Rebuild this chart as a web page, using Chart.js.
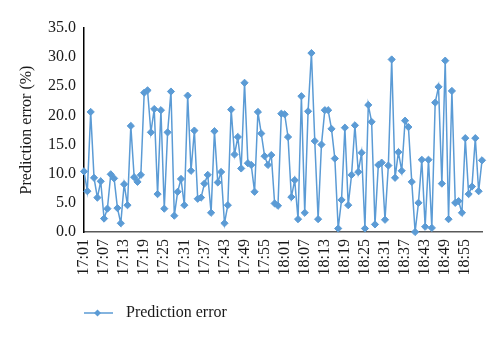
<!DOCTYPE html>
<html>
<head>
<meta charset="utf-8">
<script src="https://cdn.jsdelivr.net/npm/chart.js@4/dist/chart.umd.min.js"></script>
<style>
  html, body { margin: 0; padding: 0; background: #fff; }
  #wrap { width: 500px; height: 342px; position: relative; }
</style>
</head>
<body>
<div id="wrap"><canvas id="c"></canvas></div>
<script>
const categories = [
  '17:01','17:02','17:03','17:04','17:05','17:06','17:07','17:08','17:09','17:10',
  '17:11','17:12','17:13','17:14','17:15','17:16','17:17','17:18','17:19','17:20',
  '17:21','17:22','17:23','17:24','17:25','17:26','17:27','17:28','17:29','17:30',
  '17:31','17:32','17:33','17:34','17:35','17:36','17:37','17:38','17:39','17:40',
  '17:41','17:42','17:43','17:44','17:45','17:46','17:47','17:48','17:49','17:50',
  '17:51','17:52','17:53','17:54','17:55','17:56','17:57','17:58','17:59','18:00',
  '18:01','18:02','18:03','18:04','18:05','18:06','18:07','18:08','18:09','18:10',
  '18:11','18:12','18:13','18:14','18:15','18:16','18:17','18:18','18:19','18:20',
  '18:21','18:22','18:23','18:24','18:25','18:26','18:27','18:28','18:29','18:30',
  '18:31','18:32','18:33','18:34','18:35','18:36','18:37','18:38','18:39','18:40',
  '18:41','18:42','18:43','18:44','18:45','18:46','18:47','18:48','18:49','18:50',
  '18:51','18:52','18:53','18:54','18:55','18:56','18:57','18:58','18:59','19:00'
];

const predictionError = [
  10.4, 7.0, 20.6, 9.3, 5.9, 8.7, 2.3, 4.0, 9.9, 9.2,
  4.1, 1.5, 8.2, 4.6, 18.2, 9.4, 8.6, 9.8, 23.9, 24.3,
  17.1, 21.1, 6.5, 20.9, 4.0, 17.1, 24.1, 2.8, 6.9, 9.1,
  4.6, 23.4, 10.5, 17.4, 5.7, 5.9, 8.3, 9.8, 3.3, 17.3,
  8.5, 10.3, 1.5, 4.6, 21.0, 13.3, 16.3, 10.9, 25.6, 11.8,
  11.5, 6.9, 20.6, 16.9, 13.0, 11.5, 13.2, 4.9, 4.5, 20.3,
  20.2, 16.3, 6.0, 8.9, 2.2, 23.3, 3.3, 20.7, 30.7, 15.6,
  2.2, 15.0, 20.9, 20.9, 17.7, 12.6, 0.6, 5.5, 17.9, 4.6,
  9.8, 18.3, 10.3, 13.6, 0.6, 21.8, 18.9, 1.3, 11.5, 11.9,
  2.1, 11.4, 29.6, 9.3, 13.7, 10.5, 19.1, 18.0, 8.6, 0.0,
  5.0, 12.4, 0.9, 12.4, 0.7, 22.2, 24.9, 8.3, 29.4, 2.2,
  24.2, 5.0, 5.3, 3.3, 16.1, 6.5, 7.8, 16.1, 7.0, 12.3
];

const seriesName = 'Prediction error';
const yAxisTitle = 'Prediction error (%)';
const yTicks = [0, 5, 10, 15, 20, 25, 30, 35];
const labelEvery = 6;

const BLUE = '#5B9BD5';
const FONT = "'Liberation Serif', 'Times New Roman', serif";

// legend marker: line with a diamond
const marker = document.createElement('canvas');
marker.width = 40; marker.height = 10;
(function () {
  const m = marker.getContext('2d');
  m.strokeStyle = BLUE; m.lineWidth = 1.5;
  m.beginPath(); m.moveTo(1, 5); m.lineTo(32, 5); m.stroke();
  m.fillStyle = BLUE;
  m.beginPath();
  m.moveTo(16.5, 1.5); m.lineTo(20, 5); m.lineTo(16.5, 8.5); m.lineTo(13, 5); m.closePath();
  m.fill();
})();

new Chart(document.getElementById('c'), {
  type: 'line',
  data: {
    labels: categories,
    datasets: [{
      label: seriesName,
      data: predictionError,
      borderColor: BLUE,
      backgroundColor: BLUE,
      borderWidth: 1.5,
      pointStyle: 'rectRot',
      pointRadius: 3.6,
      pointBorderWidth: 1,
      pointBackgroundColor: BLUE,
      pointBorderColor: BLUE,
      tension: 0,
      clip: false
    }]
  },
  options: {
    responsive: true,
    maintainAspectRatio: false,
    animation: false,
    layout: { padding: { left: 0, right: 18, top: 28, bottom: 11 } },
    plugins: {
      tooltip: { enabled: false },
      legend: {
        position: 'bottom',
        align: 'start',
        fullSize: false,
        labels: {
          usePointStyle: true,
          pointStyleWidth: 34,
          padding: 0,
          color: '#1a1a1a',
          font: { family: FONT, size: 16 },
          generateLabels: function (chart) {
            const items = Chart.defaults.plugins.legend.labels.generateLabels(chart);
            items.forEach(it => { it.pointStyle = marker; });
            return items;
          }
        }
      }
    },
    scales: {
      x: {
        type: 'category',
        offset: false,
        grid: { display: false, drawTicks: false },
        border: { display: true, color: '#595959', width: 1.5 },
        ticks: {
          autoSkip: false,
          minRotation: 90,
          maxRotation: 90,
          padding: 7,
          color: '#1a1a1a',
          font: { family: FONT, size: 16 },
          callback: function (value, index) {
            return index % labelEvery === 0 ? categories[index] : '';
          }
        },
        afterFit: function (scale) {
          scale.height = 73;
          scale.paddingRight = 0;
          scale.paddingLeft = 0;
        }
      },
      y: {
        min: yTicks[0],
        max: yTicks[yTicks.length - 1],
        grid: { display: false, drawTicks: false },
        border: { display: true, color: '#000000', width: 1.5 },
        afterBuildTicks: function (scale) {
          scale.ticks = yTicks.map(v => ({ value: v }));
        },
        ticks: {
          padding: 8,
          color: '#1a1a1a',
          font: { family: FONT, size: 16 },
          callback: function (value) { return Number(value).toFixed(1); }
        },
        title: {
          display: true,
          text: yAxisTitle,
          color: '#1a1a1a',
          font: { family: FONT, size: 16 },
          padding: { top: 17, bottom: 0 }
        },
        afterFit: function (scale) { scale.width = 84; }
      }
    }
  }
});
</script>
</body>
</html>
